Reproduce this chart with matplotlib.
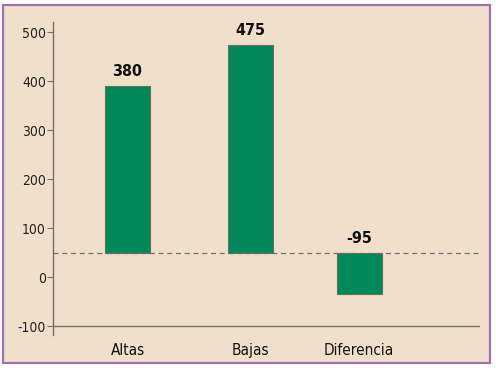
import matplotlib.pyplot as plt
from matplotlib.patches import Rectangle

# Data
categories = ['Altas', 'Bajas', 'Diferencia']
bar_tops = [390, 475, -35]
baseline = 50
value_labels = ['380', '475', '-95']
yticks = [-100, 0, 100, 200, 300, 400, 500]

plt.rcParams['font.family'] = ['Liberation Sans Narrow', 'DejaVu Sans']
plt.rcParams['font.stretch'] = 'condensed'

bg = '#F0E0CB'
green = '#00875A'

fig = plt.figure(figsize=(4.96, 3.68), dpi=100)
fig.patch.set_facecolor('white')
fig.patches.append(Rectangle((3 / 496, 5 / 368), 487 / 496, 358 / 368,
                             transform=fig.transFigure, facecolor=bg,
                             edgecolor='#A070B0', linewidth=1.6, zorder=-10))

ax = fig.add_axes([53 / 496, 1 - 335 / 368, 427 / 496, 313 / 368])
ax.set_facecolor('none')
ax.set_zorder(1)

xpos = [0, 1, 1.885]
width = 0.366
heights = [t - baseline for t in bar_tops]
ax.bar(xpos, heights, bottom=baseline, width=width, color=green,
       edgecolor='#6E6E5E', linewidth=0.8, zorder=3)

for x, t, lab in zip(xpos, bar_tops, value_labels):
    top = max(t, baseline)
    ax.annotate(lab, (x, top), xytext=(0, 5), textcoords='offset points',
                ha='center', va='bottom', fontsize=11.5, fontweight='bold',
                color='#111111')

ax.axhline(baseline, color='#707070', linestyle=(0, (4, 3)), linewidth=0.9, zorder=2)
ax.axhline(-100, color='#707070', linewidth=1.0, zorder=2)

ax.set_xlim(-0.607, 2.870)
ax.set_ylim(-118, 521)
ax.set_yticks(yticks)
ax.set_yticklabels([str(v) for v in yticks], fontsize=10, color='#222222')
ax.set_xticks(xpos)
ax.set_xticklabels(categories, fontsize=11, color='#111111')
ax.tick_params(axis='x', length=0, pad=6)
ax.tick_params(axis='y', length=4, width=0.8, color='#707070', pad=1)

for s in ['top', 'right', 'bottom']:
    ax.spines[s].set_visible(False)
ax.spines['left'].set_color('#707070')
ax.spines['left'].set_linewidth(1.0)

fig.savefig('out.png', dpi=100, facecolor=fig.get_facecolor())
